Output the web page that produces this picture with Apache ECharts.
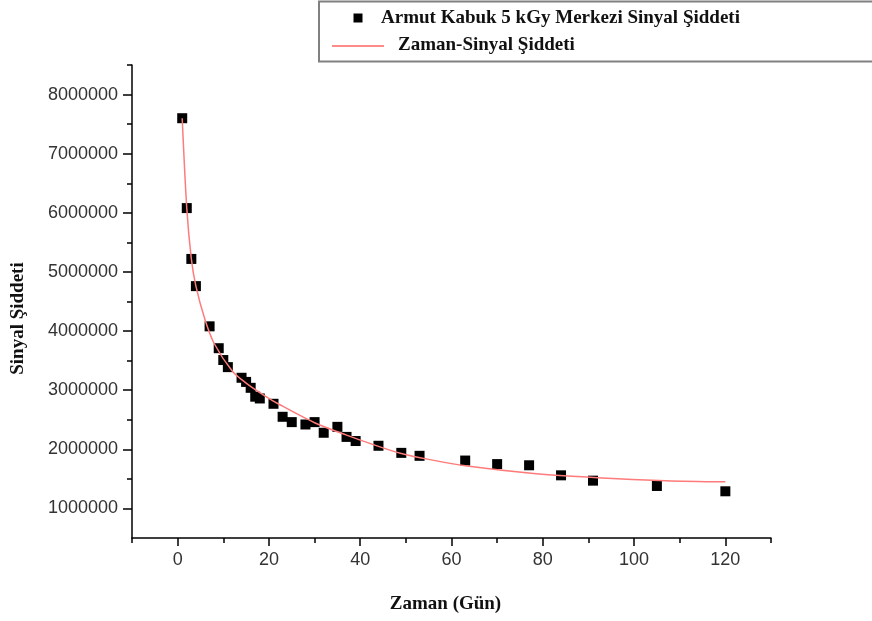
<!DOCTYPE html>
<html>
<head>
<meta charset="utf-8">
<script src="https://cdn.jsdelivr.net/npm/echarts@6/dist/echarts.min.js"></script>
<style>
  html, body { margin: 0; padding: 0; background: #fff; }
  #chart { width: 872px; height: 621px; }
</style>
</head>
<body>
<div id="chart"></div>
<script>
// olcum verileri (gun, sinyal)
var days = [1, 2, 3, 4, 7, 9, 10, 11, 14, 15, 16, 17, 18, 21, 23, 25, 28, 30, 32, 35, 37, 39, 44, 49, 53, 63, 70, 77, 84, 91, 105, 120];
var signal = [7600000, 6080000, 5220000, 4760000, 4080000, 3710000, 3510000, 3390000, 3210000, 3140000, 3040000, 2890000, 2860000,
  2770000, 2550000, 2460000, 2420000, 2460000, 2280000, 2380000, 2210000, 2140000, 2060000, 1940000, 1890000,
  1810000, 1750000, 1730000, 1560000, 1470000, 1380000, 1290000];

// egri (resimden okunan noktalar)
var fitDays = [1, 2, 3, 4, 6, 8, 12, 15, 19, 22.5, 30, 37, 44, 49, 55, 63, 78, 92, 107, 120];
var fitSignal = [7600000, 6080000, 5220000, 4760000, 4190000, 3790000, 3320000, 3120000, 2910000, 2750000, 2450000,
  2240000, 2050000, 1930000, 1830000, 1720000, 1590000, 1520000, 1470000, 1450000];

var xLabels = [0, 20, 40, 60, 80, 100, 120];
var xMinor = [-10, 10, 30, 50, 70, 90, 110, 130];
var yLabels = [1000000, 2000000, 3000000, 4000000, 5000000, 6000000, 7000000, 8000000];
var yMinor = [1500000, 2500000, 3500000, 4500000, 5500000, 6500000, 7500000, 8500000];

var pointName = 'Armut Kabuk 5 kGy Merkezi Sinyal Şiddeti';
var fitName = 'Zaman-Sinyal Şiddeti';

var myChart = echarts.init(document.getElementById('chart'));

var lineStyle = { color: '#000', width: 1.5 };
var tickFont = { fontFamily: 'Liberation Sans', fontSize: 18, color: '#333' };
var serifBold = { fontFamily: 'Liberation Serif', fontWeight: 'bold', fontSize: 19, color: '#111' };

var option = {
  animation: false,
  grid: { left: 132, right: 101, top: 65, bottom: 83 },
  xAxis: [{
    type: 'value', min: -10, max: 130,
    name: 'Zaman (Gün)', nameLocation: 'middle', nameGap: 57,
    nameTextStyle: Object.assign({ padding: [0, 12, 0, 0] }, serifBold),
    axisLine: { onZero: false, lineStyle: lineStyle },
    axisTick: { length: 8, lineStyle: lineStyle, customValues: xLabels },
    axisLabel: Object.assign({ customValues: xLabels, margin: 13 }, tickFont),
    splitLine: { show: false }
  }, {
    type: 'value', min: -10, max: 130, position: 'bottom',
    axisLine: { show: false, onZero: false },
    axisTick: { length: 5, lineStyle: lineStyle, customValues: xMinor },
    axisLabel: { show: false },
    splitLine: { show: false }
  }],
  yAxis: [{
    type: 'value', min: 500000, max: 8500000,
    name: 'Sinyal Şiddeti', nameLocation: 'middle', nameGap: 104, nameRotate: 90,
    nameTextStyle: Object.assign({ padding: [0, 34, 0, 0] }, serifBold),
    axisLine: { show: true, onZero: false, lineStyle: lineStyle },
    axisTick: { show: true, length: 9, lineStyle: lineStyle, customValues: yLabels },
    axisLabel: Object.assign({ customValues: yLabels, margin: 14, formatter: function (v) { return String(v); } }, tickFont),
    splitLine: { show: false }
  }, {
    type: 'value', min: 500000, max: 8500000, position: 'left',
    axisLine: { show: false, onZero: false },
    axisTick: { show: true, length: 5, lineStyle: lineStyle, customValues: yMinor },
    axisLabel: { show: false },
    splitLine: { show: false }
  }],
  series: [{
    name: pointName,
    type: 'scatter',
    symbol: 'rect',
    symbolSize: 10,
    itemStyle: { color: '#000', opacity: 1 },
    data: days.map(function (d, i) { return [d, signal[i]]; })
  }, {
    name: fitName,
    type: 'line',
    showSymbol: false,
    smooth: 0.3,
    z: 3,
    lineStyle: { color: '#ff7a7a', width: 1.5 },
    data: fitDays.map(function (d, i) { return [d, fitSignal[i]]; })
  }],
  graphic: [
    { type: 'rect', shape: { x: 319, y: 1.5, width: 600, height: 60 }, style: { fill: '#fff', stroke: '#808080', lineWidth: 2 } },
    { type: 'rect', shape: { x: 353.5, y: 13.5, width: 9, height: 9 }, style: { fill: '#000' } },
    { type: 'text', x: 381, y: 18, style: { text: pointName, verticalAlign: 'middle', fill: '#111', font: 'bold 19px "Liberation Serif"' } },
    { type: 'line', shape: { x1: 332, y1: 46, x2: 384, y2: 46 }, style: { stroke: '#ff8a8a', lineWidth: 2 } },
    { type: 'text', x: 398, y: 45, style: { text: fitName, verticalAlign: 'middle', fill: '#111', font: 'bold 19px "Liberation Serif"' } }
  ]
};

myChart.setOption(option);
</script>
</body>
</html>
